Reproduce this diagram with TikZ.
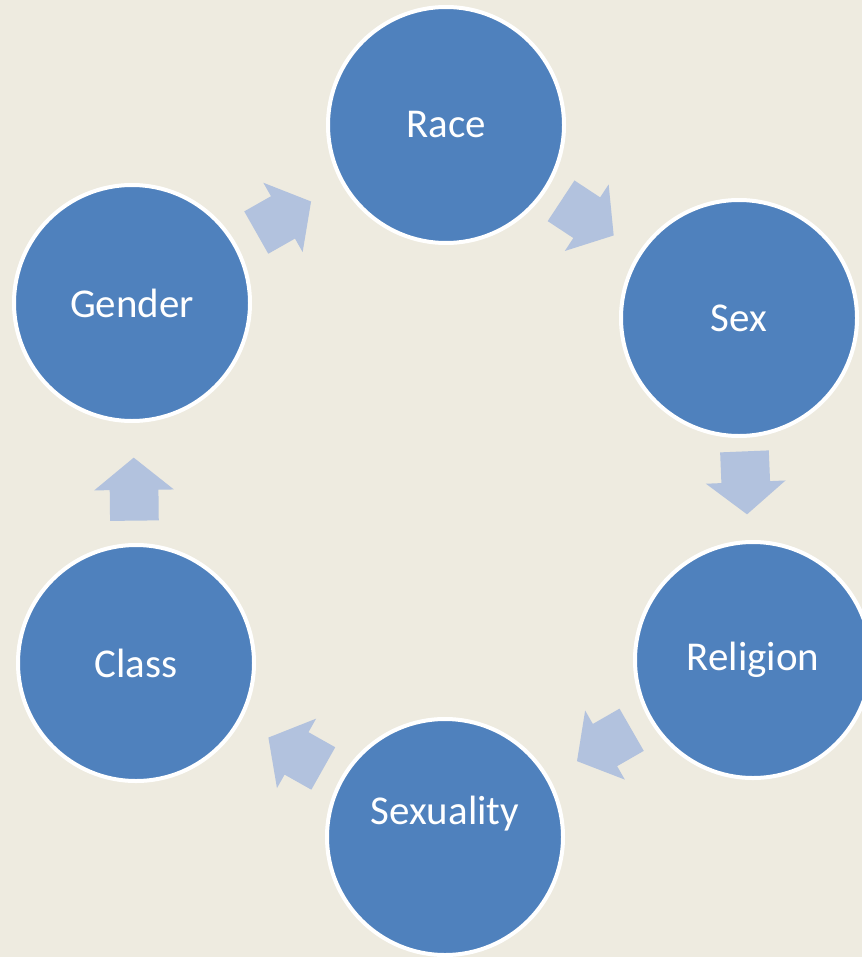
\documentclass[tikz,border=0pt]{standalone}
\usepackage{fontspec}
\setmainfont{Carlito}
\usepackage{tikz}
\usetikzlibrary{shapes.arrows}
\definecolor{paper}{HTML}{EEEBE0}
\definecolor{topicblue}{HTML}{4F81BD}
\definecolor{flowblue}{HTML}{B2C2DE}
\tikzstyle{topic} = [circle, minimum size=4.72cm, inner sep=0pt, draw=white, line width=0.08cm, fill=topicblue, text=white, font=\fontsize{23.3}{28}\selectfont]
\tikzstyle{flow} = [single arrow, draw=none, fill=flowblue, inner xsep=0pt, inner ysep=0.48cm, minimum height=1.26cm, minimum width=1.58cm, single arrow head extend=0.31cm, single arrow tip angle=102, sloped, allow upside down, xshift=-0.32cm]

\begin{document}
\begin{tikzpicture}
\useasboundingbox (0,0) rectangle (17.24,-19.14);
\clip (0,0) rectangle (17.24,-19.14);
\fill [paper] (0,0) rectangle (17.24,-19.14);
\node (race) [topic] at (8.92,-2.50) {Race};
\node (sex) [topic] at (14.78,-6.36) {Sex};
\node (religion) [topic] at (15.06,-13.20) {Religion};
\node (sexuality) [topic, label={[text=white, font=\fontsize{23.3}{28}\selectfont, yshift=0.46cm]center:Sexuality}] at (8.90,-16.74) {};
\node (class) [topic] at (2.72,-13.26) {Class};
\node (gender) [topic] at (2.64,-6.06) {Gender};
\path (gender) -- node[flow] {} (race);
\path (race) -- node[flow] {} (sex);
\path (sex) -- node[flow] {} (religion);
\path (religion) -- node[flow] {} (sexuality);
\path (sexuality) -- node[flow] {} (class);
\path (class) -- node[flow] {} (gender);
\end{tikzpicture}
\end{document}
